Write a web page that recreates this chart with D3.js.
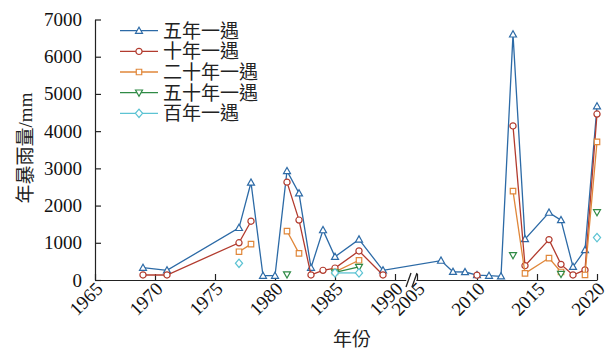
<!DOCTYPE html>
<html>
<head>
<meta charset="utf-8">
<script src="https://cdn.jsdelivr.net/npm/d3@7"></script>
<style>body{margin:0}</style>
</head>
<body>
<svg id="chart" width="613" height="353"></svg>
<script>
// data (annual storm rainfall, mm)
const years = [1969, 1971, 1977, 1978, 1979, 1980, 1981, 1982, 1983, 1984, 1985, 1987, 1989,
  2007, 2008, 2009, 2010, 2011, 2012, 2013, 2014, 2016, 2017, 2018, 2019, 2020];
const fiveYear = [330, 260, 1400, 2620, 115, 115, 2930, 2330, 330, 1340, 625, 1090, 260,
  520, 220, 215, 130, 115, 100, 6600, 1100, 1810, 1610, 355, 805, 4670];
const tenYear = [135, 135, 1000, 1580, null, null, 2630, 1610, 135, 260, 320, 780, 135,
  null, null, null, 130, null, null, 4140, 385, 1085, 420, 135, 270, 4460];
const twentyYear = [null, null, 760, 965, null, null, 1315, 715, null, null, 220, 530, null,
  null, null, null, null, null, null, 2390, 180, 590, 215, null, 135, 3710];
const fiftyYear = [null, null, null, null, null, null, 150, null, null, null, 205, 350, null,
  null, null, null, null, null, null, 665, null, null, 160, null, null, 1820];
const hundredYear = [null, null, 450, null, null, null, null, null, null, null, 190, 190, null,
  null, null, null, null, null, null, null, null, null, null, null, null, 1140];

const seriesNames = ['五年一遇', '十年一遇', '二十年一遇', '五十年一遇', '百年一遇'];
const seriesColors = ['#2c6aa6', '#b23b2e', '#e0873a', '#2f8a45', '#5cc3d3'];
const seriesShapes = ['triUp', 'circle', 'square', 'triDown', 'diamond'];
const yTicks = [0, 1000, 2000, 3000, 4000, 5000, 6000, 7000];
const xTicksLeft = [1965, 1970, 1975, 1980, 1985, 1990];
const xTicksRight = [2005, 2010, 2015, 2020];

const series = [fiveYear, tenYear, twentyYear, fiftyYear, hundredYear];

const svg = d3.select('#chart');
const r1 = v => Math.round(v * 10) / 10;

const baseY = 280;
const y = d3.scaleLinear().domain([0, 7000]).range([baseY, 19.5]);
const xLeft = d3.scaleLinear().domain([1965, 1990.9]).range([95, 405.8]);
const xRight = d3.scaleLinear().domain([2004.9, 2020]).range([415.8, 597]);
const xPos = yr => (yr < 1998 ? xLeft(yr) : xRight(yr));

// y axis, labels drawn by hand
const yAxis = svg.append('g')
  .attr('transform', 'translate(95,0)')
  .call(d3.axisLeft(y).tickValues(yTicks).tickSizeInner(-6).tickSizeOuter(0));
yAxis.select('.domain').attr('stroke', '#222').attr('stroke-width', 1.2);
yAxis.selectAll('.tick line').attr('stroke', '#222').attr('stroke-width', 1.2);
yAxis.selectAll('.tick text').remove();
yTicks.forEach(t => {
  svg.append('text')
    .attr('x', 82)
    .attr('y', r1(y(t) + 6.5))
    .attr('text-anchor', 'end')
    .attr('font-family', 'Liberation Serif')
    .attr('font-size', 19)
    .attr('fill', '#111')
    .text(String(t));
});

// x axes (broken)
function drawX(scale, ticks) {
  const g = svg.append('g')
    .attr('transform', `translate(0,${baseY})`)
    .call(d3.axisBottom(scale).tickValues(ticks).tickSizeInner(-6).tickSizeOuter(0));
  g.select('.domain').attr('stroke', '#222').attr('stroke-width', 1.2);
  g.selectAll('.tick line').attr('stroke', '#222').attr('stroke-width', 1.2);
  g.selectAll('.tick text').remove();
  ticks.forEach(t => {
    const tx = Math.round(scale(t) + 9);
    const ty = baseY + 10;
    svg.append('text')
      .attr('x', tx)
      .attr('y', ty)
      .attr('transform', `rotate(-45, ${tx}, ${ty})`)
      .attr('text-anchor', 'end')
      .attr('font-family', 'Liberation Serif')
      .attr('font-size', 19)
      .attr('fill', '#111')
      .text(String(t));
  });
}
drawX(xLeft, xTicksLeft);
drawX(xRight, xTicksRight);

// break marks
[408.5, 414.5].forEach(bx => {
  svg.append('line')
    .attr('x1', bx - 2.5).attr('y1', baseY + 7)
    .attr('x2', bx + 2.5).attr('y2', baseY - 7)
    .attr('stroke', '#222').attr('stroke-width', 1.3);
});

// symbols
function symbolPath(shape) {
  if (shape === 'circle') return d3.symbol(d3.symbolCircle, 30)();
  if (shape === 'square') return d3.symbol(d3.symbolSquare, 30)();
  if (shape === 'diamond') return 'M0,-4.2L3.6,0L0,4.2L-3.6,0Z';
  if (shape === 'triDown') return 'M-3.5,-2.6L3.5,-2.6L0,3.6Z';
  return 'M-3.5,2.6L3.5,2.6L0,-3.6Z';
}

const line = d3.line()
  .defined(d => d.v !== null)
  .x(d => xPos(d.yr))
  .y(d => y(d.v));

series.forEach((vals, i) => {
  const pts = years.map((yr, j) => ({ yr, v: vals[j] }));
  svg.append('path')
    .datum(pts)
    .attr('d', line)
    .attr('fill', 'none')
    .attr('stroke', seriesColors[i])
    .attr('stroke-width', 1.3);
  svg.append('g').selectAll('path')
    .data(pts.filter(d => d.v !== null))
    .join('path')
    .attr('d', symbolPath(seriesShapes[i]))
    .attr('transform', d => `translate(${xPos(d.yr)},${y(d.v)})`)
    .attr('fill', '#fff')
    .attr('stroke', seriesColors[i])
    .attr('stroke-width', 1.2);
});

// legend
seriesNames.forEach((name, i) => {
  const ly = r1(30.7 + i * 20.65);
  svg.append('line')
    .attr('x1', 120).attr('x2', 158).attr('y1', ly).attr('y2', ly)
    .attr('stroke', seriesColors[i]).attr('stroke-width', 1.3);
  svg.append('path')
    .attr('d', symbolPath(seriesShapes[i]))
    .attr('transform', `translate(139,${ly})`)
    .attr('fill', '#fff').attr('stroke', seriesColors[i]).attr('stroke-width', 1.2);
  svg.append('text')
    .attr('x', 163).attr('y', r1(ly + 7))
    .attr('font-family', 'Noto Sans CJK TC')
    .attr('font-size', 19)
    .attr('fill', '#222')
    .text(name);
});

// axis titles
const yt = svg.append('text')
  .attr('transform', 'translate(32,148) rotate(-90)')
  .attr('text-anchor', 'middle')
  .attr('font-family', 'Noto Sans CJK TC')
  .attr('font-size', 19)
  .attr('fill', '#222');
yt.append('tspan').text('年暴雨量');
yt.append('tspan').attr('font-family', 'Liberation Serif').text('/mm');
svg.append('text')
  .attr('x', 352).attr('y', 346)
  .attr('text-anchor', 'middle')
  .attr('font-family', 'Noto Sans CJK TC')
  .attr('font-size', 19)
  .attr('fill', '#222')
  .text('年份');
</script>
</body>
</html>
